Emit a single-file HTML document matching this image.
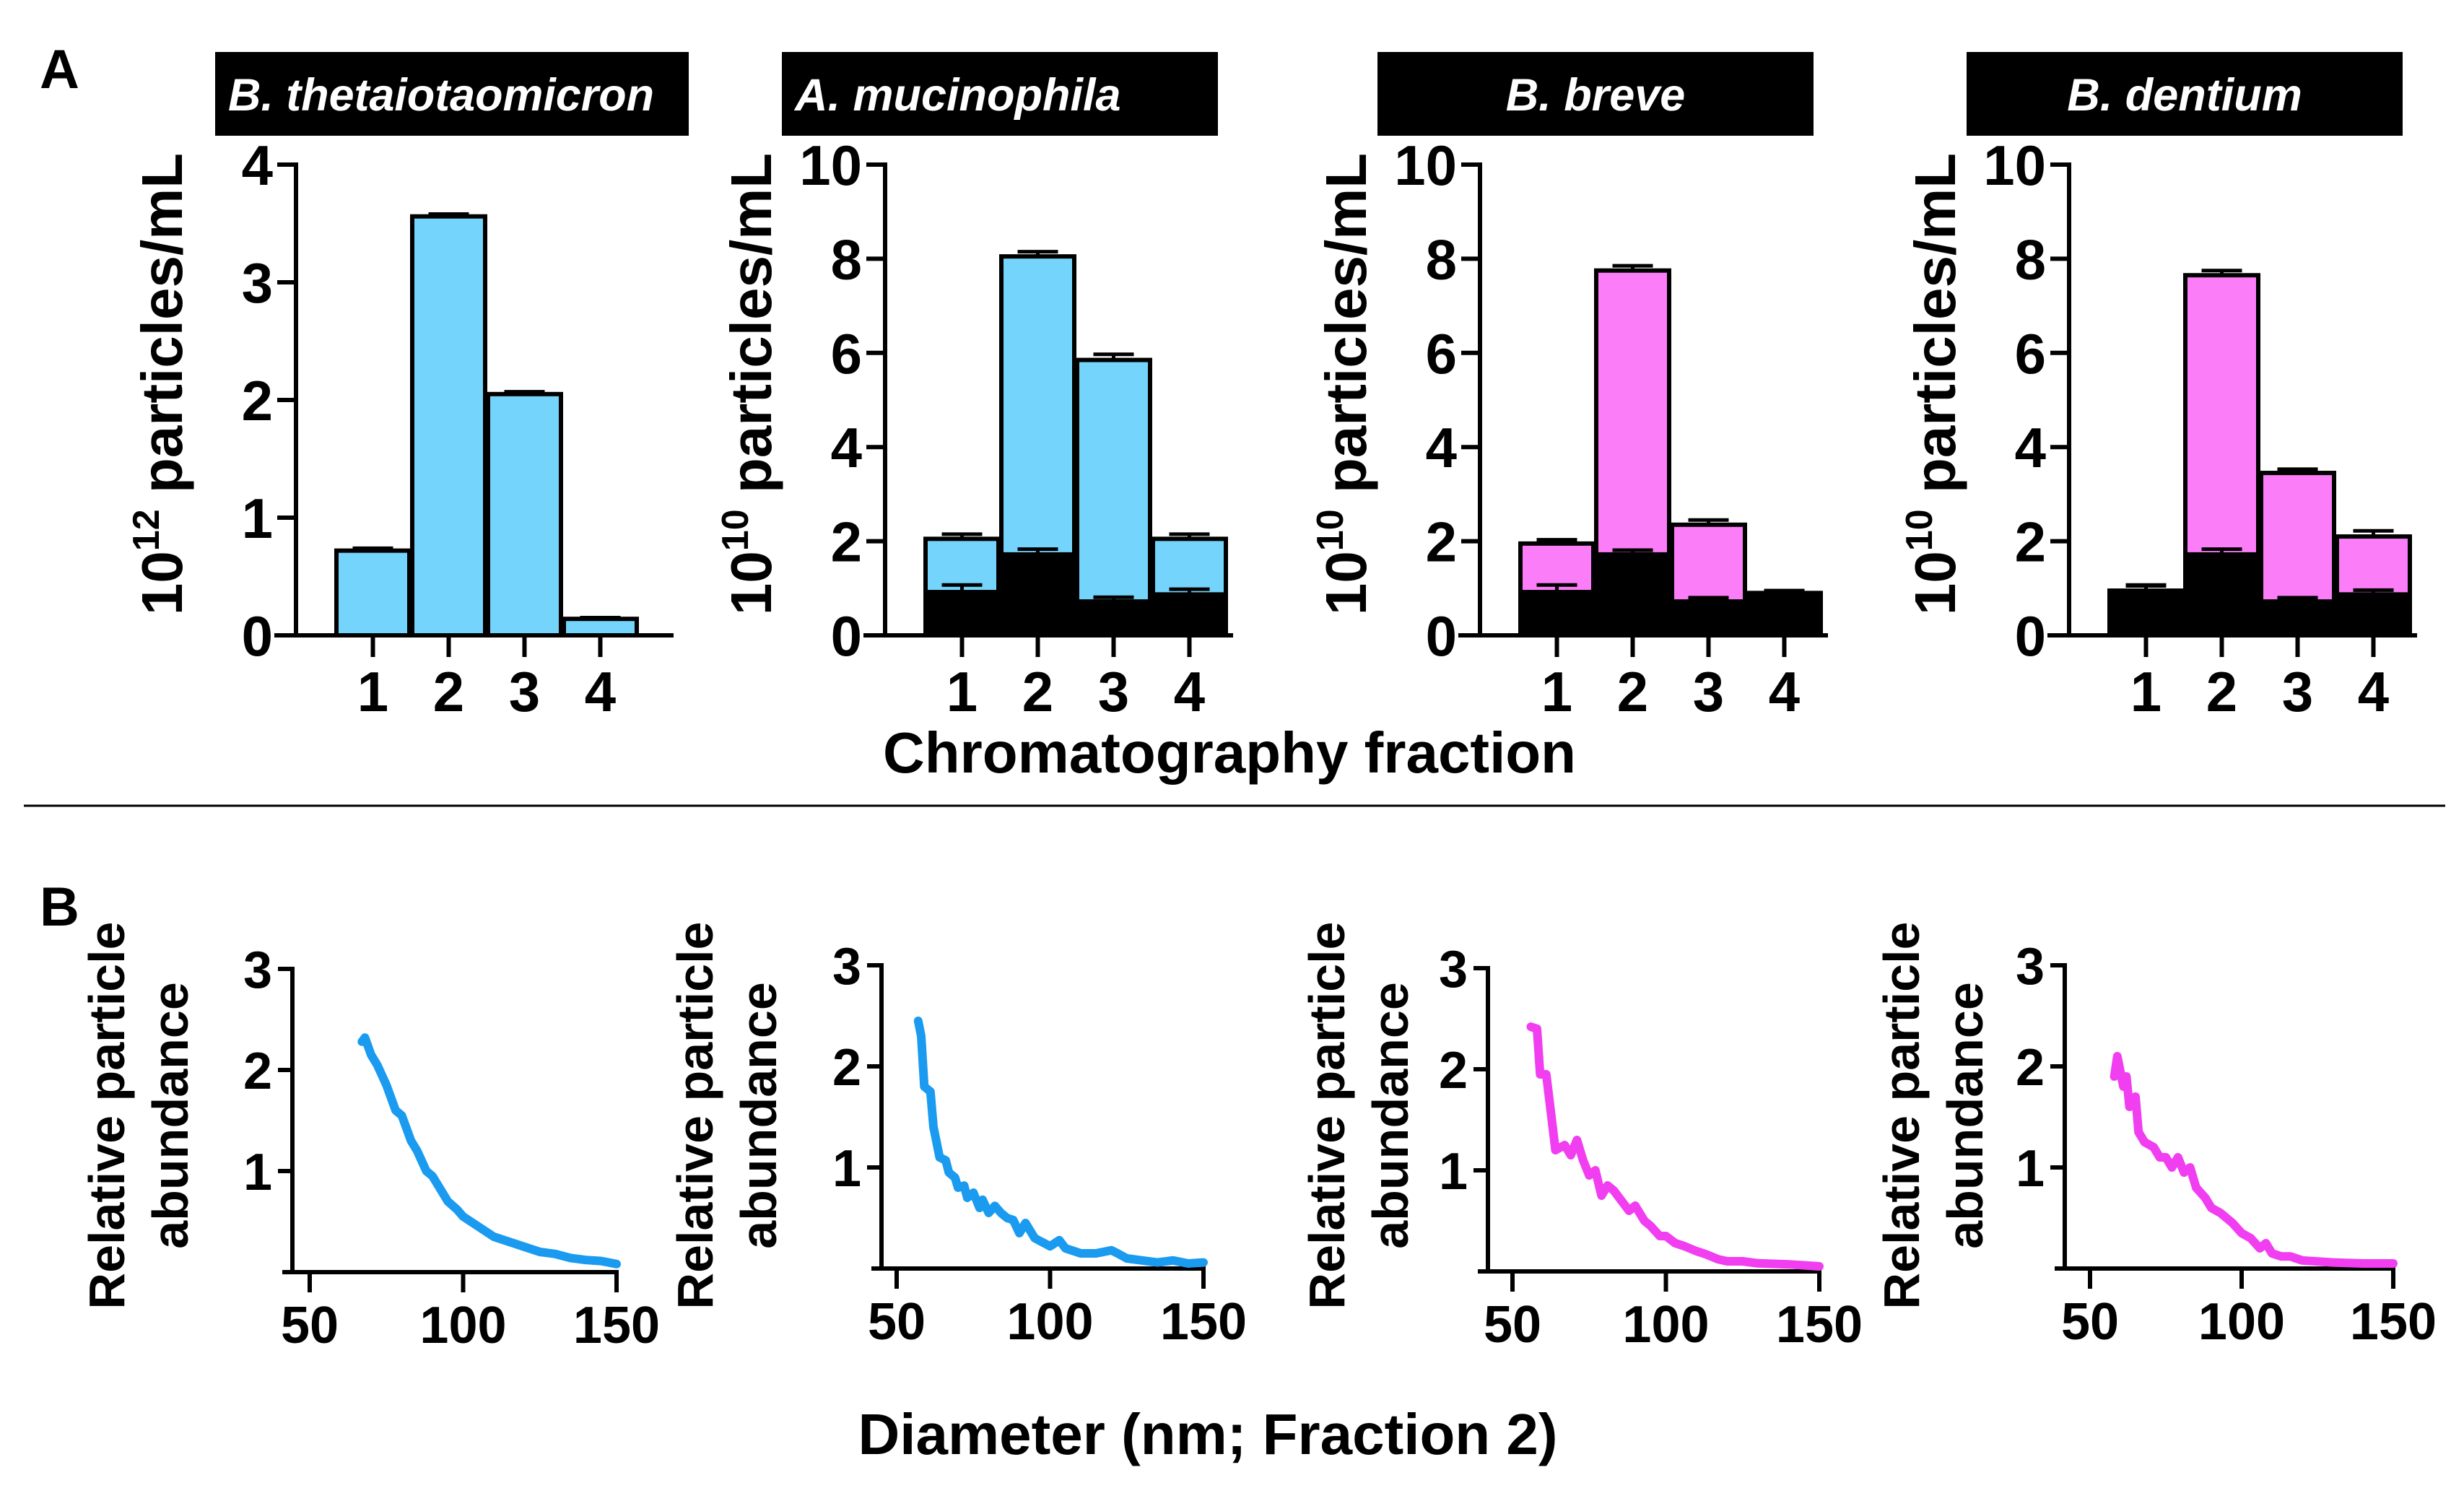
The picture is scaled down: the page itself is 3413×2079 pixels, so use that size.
<!DOCTYPE html>
<html><head><meta charset="utf-8"><style>
html,body{margin:0;padding:0;background:#fff;}
svg{display:block;font-family:"Liberation Sans",Arial,sans-serif;font-weight:bold;}
</style></head><body>
<svg id="fig" width="3413" height="2079" viewBox="0 0 3413 2079" xmlns="http://www.w3.org/2000/svg">
<text x="55" y="122" font-size="76">A</text>
<text x="55" y="1282" font-size="76">B</text>
<line x1="33" y1="1116" x2="3387" y2="1116" stroke="#000" stroke-width="3"/>
<text x="1703" y="1070" font-size="80" text-anchor="middle">Chromatography fraction</text>
<text x="1673" y="2014" font-size="80" text-anchor="middle">Diameter (nm; Fraction 2)</text>
</svg>
<script>
// ---- Panel A data ----
const fractions = ["1","2","3","4"];
const theta = [0.72, 3.56, 2.05, 0.14];
const thetaErr = [0.02, 0.02, 0.02, 0.01];
const mucTotal = [2.05, 8.05, 5.85, 2.05];
const mucTotalErr = [0.1, 0.1, 0.12, 0.1];
const mucBlack = [0.95, 1.75, 0.75, 0.9];
const mucBlackErr = [0.12, 0.08, 0.06, 0.08];
const breveTotal = [1.95, 7.75, 2.35, 0.9];
const breveTotalErr = [0.08, 0.1, 0.1, 0.05];
const breveBlack = [0.95, 1.75, 0.75, 0.9];
const breveBlackErr = [0.12, 0.06, 0.05, 0.05];
const dentTotal = [0.95, 7.65, 3.45, 2.1];
const dentTotalErr = [0.1, 0.1, 0.08, 0.12];
const dentBlack = [0.95, 1.75, 0.75, 0.9];
const dentBlackErr = [0.12, 0.08, 0.05, 0.06];
const ticksA1 = [0, 1, 2, 3, 4];
const ticksA2 = [0, 2, 4, 6, 8, 10];
// ---- Panel B data ----
const ticksBy = [1, 2, 3];
const ticksBx = [50, 100, 150];
const b1x = [67,68,70,72,75,78,80,83,85,88,90,93,95,98,100,105,110,115,120,125,130,135,140,145,150];
const b1y = [2.28,2.32,2.15,2.05,1.85,1.6,1.55,1.3,1.2,1.0,0.95,0.8,0.7,0.62,0.55,0.45,0.35,0.3,0.25,0.2,0.18,0.14,0.12,0.11,0.08];
const b2x = [57,58,59,61,62,64,66,67,69,70,72,73,75,77,78,80,82,84,86,88,90,92,95,100,103,105,110,115,120,122,125,130,135,140,145,150];
const b2y = [2.45,2.3,1.8,1.75,1.4,1.1,1.07,0.95,0.9,0.8,0.82,0.7,0.75,0.6,0.68,0.55,0.62,0.55,0.5,0.48,0.35,0.45,0.3,0.22,0.28,0.2,0.15,0.15,0.18,0.15,0.1,0.08,0.06,0.08,0.05,0.06];
const b3x = [56,58,59,61,63,64,67,69,71,73,75,77,79,81,83,85,88,90,93,95,98,100,103,106,110,113,117,120,125,130,140,150];
const b3y = [2.42,2.4,1.95,1.95,1.45,1.2,1.25,1.15,1.3,1.1,0.95,1.0,0.75,0.85,0.8,0.72,0.6,0.65,0.5,0.45,0.35,0.35,0.28,0.25,0.2,0.17,0.12,0.1,0.1,0.08,0.07,0.05];
const b4x = [58,59,61,62,63,65,66,68,71,73,75,77,79,81,83,85,88,90,93,95,97,100,103,106,108,110,113,116,120,125,130,140,150];
const b4y = [1.9,2.1,1.8,1.9,1.6,1.7,1.35,1.25,1.2,1.1,1.1,1.0,1.1,0.95,1.0,0.8,0.7,0.6,0.55,0.5,0.45,0.35,0.3,0.2,0.25,0.15,0.12,0.12,0.08,0.07,0.06,0.05,0.05];

const NS = "http://www.w3.org/2000/svg";
const svg = document.getElementById("fig");
function mk(tag, attrs, parent, text){
  const e = document.createElementNS(NS, tag);
  for (const k in attrs) e.setAttribute(k, attrs[k]);
  if (text !== undefined) e.textContent = text;
  (parent || svg).appendChild(e);
  return e;
}
const BLUE = "#75d4fb", PINK = "#fb7ef8";

function barChart(o){
  const g = mk("g", {});
  
  
  const yTop = 228, yBot = 880;
  const Y = v => yBot - (v / o.ymax) * (yBot - yTop);
  const slot = 105, bw = 101, off = 56;
  const X = i => o.ax + off + i * slot;
  const tw = o.tw || 604;
  const tb = mk("rect", {x:o.tx, y:72, width:tw, height:116, fill:"#000"}, g);
  
  
  const ta = {x:o.tx + (o.tcenter ? tw/2 : 18), y:153, "font-size":63, "font-style":"italic", fill:"#fff", "text-anchor": o.tcenter ? "middle" : "start"};
  if (o.tlen) { ta.textLength = o.tlen; ta.lengthAdjust = "spacingAndGlyphs"; }
  const tt = mk("text", ta, g, o.title);
  
  
  const yl = mk("text", {x:0, y:0, "font-size":80, "text-anchor":"middle", transform:`translate(${o.ax - 158},532) rotate(-90)`}, g);
  
  
  mk("tspan", {}, yl, "10");
  mk("tspan", {dy:-32, "font-size":52}, yl, o.exp);
  mk("tspan", {dy:32}, yl, " particles/mL");
  for (let i = 0; i < fractions.length; i++){
    const x = X(i);
    const tot = o.total[i];
    const r = mk("rect", {x:x, y:Y(tot), width:bw, height:yBot - Y(tot), fill:o.color, stroke:"#000", "stroke-width":6}, g);
    
    
    errBar(g, x + bw/2, Y(tot), Y(tot + o.totalErr[i]));
    if (o.black){
      const b = o.black[i];
      const rb = mk("rect", {x:x, y:Y(b), width:bw, height:yBot - Y(b), fill:"#000", stroke:"#000", "stroke-width":2}, g);
      
      
      errBar(g, x + bw/2, Y(b), Y(b + o.blackErr[i]));
    }
    const tk = mk("line", {x1:x + bw/2, y1:yBot, x2:x + bw/2, y2:yBot + 30, stroke:"#000", "stroke-width":6}, g);
    
    
    const tl = mk("text", {x:x + bw/2, y:985, "font-size":78, "text-anchor":"middle"}, g, fractions[i]);
    
    
  }
  const ya = mk("line", {x1:o.ax, y1:yTop - 3, x2:o.ax, y2:yBot + 3, stroke:"#000", "stroke-width":6}, g);
  
  
  const xa = mk("line", {x1:o.ax - 30, y1:yBot, x2:o.xend, y2:yBot, stroke:"#000", "stroke-width":6}, g);
  
  
  for (const t of o.ticks){
    const l = mk("line", {x1:o.ax - 26, y1:Y(t), x2:o.ax, y2:Y(t), stroke:"#000", "stroke-width":6}, g);
    
    
    const tx = mk("text", {x:o.ax - 32, y:Y(t) + 28, "font-size":78, "text-anchor":"end"}, g, String(t));
    
    
  }
}
function errBar(g, cx, y0, y1){
  const l = mk("line", {x1:cx, y1:y0, x2:cx, y2:y1, stroke:"#000", "stroke-width":5}, g);
  
  
  const c = mk("line", {x1:cx - 28, y1:y1, x2:cx + 28, y2:y1, stroke:"#000", "stroke-width":5}, g);
  
  
}

barChart({name:"chart-b-thetaiotaomicron", ax:410, xend:933, ymax:4, ticks:ticksA1, total:theta, totalErr:thetaErr, color:BLUE, title:"B. thetaiotaomicron", tx:298, tw:656, tlen:590, exp:"12"});
barChart({name:"chart-a-mucinophila", ax:1226, xend:1708, ymax:10, ticks:ticksA2, total:mucTotal, totalErr:mucTotalErr, black:mucBlack, blackErr:mucBlackErr, color:BLUE, title:"A. mucinophila", tx:1083, exp:"10"});
barChart({name:"chart-b-breve", ax:2050, xend:2532, ymax:10, ticks:ticksA2, total:breveTotal, totalErr:breveTotalErr, black:breveBlack, blackErr:breveBlackErr, color:PINK, title:"B. breve", tx:1908, tcenter:true, exp:"10"});
barChart({name:"chart-b-dentium", ax:2866, xend:3348, ymax:10, ticks:ticksA2, total:dentTotal, totalErr:dentTotalErr, black:dentBlack, blackErr:dentBlackErr, color:PINK, title:"B. dentium", tx:2724, tcenter:true, exp:"10"});

function lineChart(o){
  const g = mk("g", {});
  
  
  const yBot = o.yb, unit = 140;
  const Y = v => yBot - v * unit;
  const X = v => o.x50 + (v - 50) * o.px;
  const ya = mk("line", {x1:o.ax, y1:Y(3) - 3, x2:o.ax, y2:yBot + 3, stroke:"#000", "stroke-width":6}, g);
  
  
  const xa = mk("line", {x1:o.ax - 14, y1:yBot, x2:X(150) + 3, y2:yBot, stroke:"#000", "stroke-width":6}, g);
  
  
  for (const t of ticksBy){
    const l = mk("line", {x1:o.ax - 20, y1:Y(t), x2:o.ax, y2:Y(t), stroke:"#000", "stroke-width":6}, g);
    
    
    const tx = mk("text", {x:o.ax - 28, y:Y(t) + 26, "font-size":72, "text-anchor":"end"}, g, String(t));
    
    
  }
  for (const t of ticksBx){
    const l = mk("line", {x1:X(t), y1:yBot, x2:X(t), y2:yBot + 28, stroke:"#000", "stroke-width":6}, g);
    
    
    const tx = mk("text", {x:X(t), y:yBot + 98, "font-size":72, "text-anchor":"middle"}, g, String(t));
    
    
  }
  const yl = mk("text", {x:0, y:0, "font-size":70, "text-anchor":"middle", transform:`translate(${o.lx},1545) rotate(-90)`}, g);
  
  
  mk("tspan", {x:0, dy:0}, yl, "Relative particle");
  mk("tspan", {x:0, dy:88}, yl, "abundance");
  let d = "";
  for (let i = 0; i < o.xs.length; i++) d += (i ? "L" : "M") + X(o.xs[i]).toFixed(1) + "," + Y(o.ys[i]).toFixed(1);
  const p = mk("path", {d:d, fill:"none", stroke:o.color, "stroke-width":12, "stroke-linejoin":"round", "stroke-linecap":"round"}, g);
  
  
}
lineChart({name:"distribution-b-thetaiotaomicron", ax:405, yb:1762, x50:429, px:4.25, xs:b1x, ys:b1y, color:"#1a9bf0", lx:172});
lineChart({name:"distribution-a-mucinophila", ax:1221, yb:1757, x50:1242, px:4.25, xs:b2x, ys:b2y, color:"#1a9bf0", lx:987});
lineChart({name:"distribution-b-breve", ax:2061, yb:1761, x50:2095, px:4.25, xs:b3x, ys:b3y, color:"#f03ef0", lx:1862});
lineChart({name:"distribution-b-dentium", ax:2860, yb:1757, x50:2895, px:4.2, xs:b4x, ys:b4y, color:"#f03ef0", lx:2658});
</script>
</body></html>
